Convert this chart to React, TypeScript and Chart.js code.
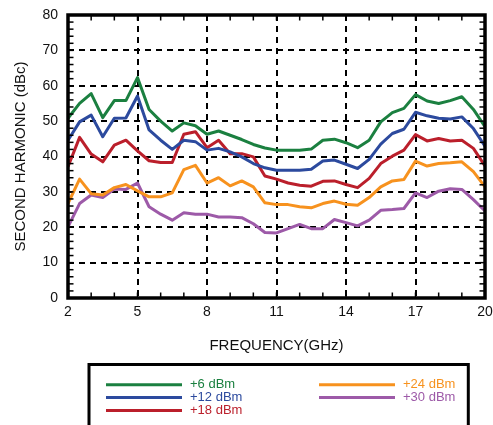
import React, { useEffect, useRef } from 'react';
import { Chart, registerables } from 'chart.js';

Chart.register(...registerables);

// ---- data ----
const FREQ_GHZ = [
  2, 2.5, 3, 3.5, 4, 4.5, 5, 5.5, 6, 6.5, 7, 7.5, 8, 8.5, 9, 9.5, 10, 10.5, 11,
  11.5, 12, 12.5, 13, 13.5, 14, 14.5, 15, 15.5, 16, 16.5, 17, 17.5, 18, 18.5, 19, 19.5, 20,
];
const SERIES_LABELS = ['+6 dBm', '+12 dBm', '+18 dBm', '+24 dBm', '+30 dBm'];
const P6_DBM = [
  50.8, 55.0, 57.8, 51.0, 55.8, 55.8, 62.3, 53.3, 50.0, 47.2, 49.5, 48.7, 46.3, 47.2, 46.0, 44.8, 43.4, 42.4, 41.8,
  41.8, 41.8, 42.1, 44.6, 44.9, 43.9, 42.5, 44.6, 49.8, 52.4, 53.6, 57.5, 55.7, 55.0, 55.8, 56.9, 53.3, 48.4,
];
const P12_DBM = [
  44.6, 49.8, 51.7, 45.6, 50.8, 50.9, 57.1, 47.5, 44.6, 42.0, 44.6, 44.2, 41.8, 42.3, 41.3, 39.9, 38.0, 36.8, 36.1,
  36.1, 36.1, 36.4, 38.7, 39.0, 37.8, 36.6, 39.2, 43.5, 46.5, 47.7, 52.5, 51.5, 50.8, 50.6, 51.2, 47.9, 42.9,
];
const P18_DBM = [
  37.1, 45.4, 40.7, 38.5, 43.2, 44.6, 41.6, 38.8, 38.3, 38.3, 46.3, 47.0, 42.5, 44.6, 40.8, 40.8, 39.9, 34.5, 33.6,
  32.5, 31.9, 31.6, 33.0, 33.1, 32.1, 31.2, 33.8, 38.0, 40.1, 41.8, 46.2, 44.4, 45.1, 44.4, 44.6, 42.3, 37.3,
];
const P24_DBM = [
  26.7, 33.6, 29.5, 29.1, 31.2, 32.1, 30.3, 28.6, 28.6, 29.7, 36.3, 37.5, 32.5, 34.0, 31.7, 33.1, 31.4, 26.9, 26.4,
  26.4, 25.8, 25.5, 26.7, 27.4, 26.5, 26.2, 28.4, 31.4, 33.1, 33.5, 38.7, 37.3, 38.0, 38.2, 38.5, 35.7, 31.4,
];
const P30_DBM = [
  20.1, 26.7, 29.1, 28.4, 30.8, 30.7, 32.5, 25.8, 23.7, 22.0, 24.1, 23.7, 23.7, 22.9, 22.9, 22.7, 21.0, 18.5, 18.4,
  19.6, 20.8, 19.6, 19.6, 22.2, 21.3, 20.4, 22.0, 24.8, 25.0, 25.3, 29.7, 28.4, 30.2, 30.9, 30.7, 27.8, 24.6,
];
const X_TICKS = [2, 5, 8, 11, 14, 17, 20];
const Y_TICKS = [0, 10, 20, 30, 40, 50, 60, 70, 80];
const X_TITLE = 'FREQUENCY(GHz)';
const Y_TITLE = 'SECOND HARMONIC (dBc)';

const SERIES_VALUES = [P6_DBM, P12_DBM, P18_DBM, P24_DBM, P30_DBM];
const SERIES_COLORS = ['#1b8040', '#2c4a9e', '#bb1f2b', '#f7921e', '#9d5aa8'];

const FONT = '"Liberation Sans", Arial, Helvetica, sans-serif';

const framePlugin = {
  id: 'frameAndMinorTicks',
  afterDatasetsDraw(chart: any) {
    const { ctx, chartArea: a, scales } = chart;
    const xs = scales.x;
    const ys = scales.y;
    const seg = (x1: number, y1: number, x2: number, y2: number) => {
      ctx.beginPath();
      ctx.moveTo(x1, y1);
      ctx.lineTo(x2, y2);
      ctx.stroke();
    };
    ctx.save();
    ctx.strokeStyle = '#000';
    ctx.lineWidth = 1.5;
    const t = 5.5;
    for (let v = xs.min + 1; v < xs.max; v += 1) {
      const px = xs.getPixelForValue(v);
      seg(px, a.bottom, px, a.bottom - t);
      seg(px, a.top, px, a.top + t);
    }
    for (let v = ys.min + 2; v < ys.max; v += 2) {
      const py = ys.getPixelForValue(v);
      seg(a.left, py, a.left + t, py);
      seg(a.right, py, a.right - t, py);
    }
    ctx.lineWidth = 3.5;
    ctx.strokeRect(a.left, a.top, a.right - a.left, a.bottom - a.top);
    ctx.restore();
  },
};

const boxLegendPlugin = {
  id: 'boxLegend',
  afterDraw(chart: any) {
    const ctx = chart.ctx;
    ctx.save();
    ctx.strokeStyle = '#000';
    ctx.lineWidth = 3;
    ctx.beginPath();
    ctx.moveTo(89, 440);
    ctx.lineTo(89, 364.5);
    ctx.lineTo(468.3, 364.5);
    ctx.lineTo(468.3, 440);
    ctx.stroke();
    const slots = [
      [106, 384.8],
      [106, 397.5],
      [106, 410.5],
      [319, 384.8],
      [319, 397.5],
    ];
    chart.data.datasets.forEach((ds: any, i: number) => {
      const [x, y] = slots[i];
      ctx.strokeStyle = ds.borderColor;
      ctx.lineWidth = 3;
      ctx.beginPath();
      ctx.moveTo(x, y);
      ctx.lineTo(x + 76, y);
      ctx.stroke();
      ctx.fillStyle = ds.borderColor;
      ctx.font = `13px ${FONT}`;
      ctx.textBaseline = 'middle';
      ctx.textAlign = 'left';
      ctx.fillText(ds.label, x + 84, y - 0.5);
    });
    ctx.restore();
  },
};

export default function App() {
  const canvasRef = useRef<HTMLCanvasElement | null>(null);

  useEffect(() => {
    if (!canvasRef.current) return;
    const datasets = SERIES_LABELS.map((label, i) => ({
      label,
      data: FREQ_GHZ.map((f, j) => ({ x: f, y: SERIES_VALUES[i][j] })),
      borderColor: SERIES_COLORS[i],
      backgroundColor: SERIES_COLORS[i],
      borderWidth: 3,
      pointRadius: 0,
      tension: 0,
      borderJoinStyle: 'round' as const,
      fill: false,
    }));

    const chart = new Chart(canvasRef.current, {
      type: 'line',
      data: { datasets },
      options: {
        animation: false,
        responsive: false,
        devicePixelRatio: 1,
        layout: { padding: { left: 0, top: 15, right: 8, bottom: 67 } },
        plugins: {
          legend: { display: false },
          tooltip: { enabled: false },
        },
        scales: {
          x: {
            type: 'linear',
            min: 2,
            max: 20,
            afterBuildTicks: (s: any) => {
              s.ticks = X_TICKS.map((v) => ({ value: v }));
            },
            afterFit: (s: any) => {
              s.height = 60;
              s.paddingLeft = 0;
              s.paddingRight = 0;
            },
            ticks: {
              autoSkip: false,
              maxRotation: 0,
              padding: 6,
              color: '#111',
              font: { family: FONT, size: 14 },
            },
            grid: { color: '#000', lineWidth: 2, drawTicks: false },
            border: { display: false, dash: [6, 5] },
            title: {
              display: true,
              text: X_TITLE,
              color: '#111',
              font: { family: FONT, size: 15 },
              padding: { top: 0, bottom: 3 },
            },
          },
          y: {
            type: 'linear',
            min: 0,
            max: 80,
            afterBuildTicks: (s: any) => {
              s.ticks = Y_TICKS.map((v) => ({ value: v }));
            },
            afterFit: (s: any) => {
              s.width = 68;
              s.paddingTop = 0;
              s.paddingBottom = 0;
            },
            ticks: {
              padding: 10,
              color: '#111',
              font: { family: FONT, size: 14 },
            },
            grid: { color: '#000', lineWidth: 2, drawTicks: false },
            border: { display: false, dash: [6, 5] },
            title: {
              display: true,
              text: Y_TITLE,
              color: '#111',
              font: { family: FONT, size: 15 },
              padding: { top: 12, bottom: 0 },
            },
          },
        },
      },
      plugins: [framePlugin, boxLegendPlugin],
    });
    return () => chart.destroy();
  }, []);

  return (
    <div style={{ position: 'absolute', left: 0, top: 0, width: 493, height: 425, background: '#fff' }}>
      <canvas ref={canvasRef} width={493} height={425} style={{ display: 'block', width: 493, height: 425 }} />
    </div>
  );
}
